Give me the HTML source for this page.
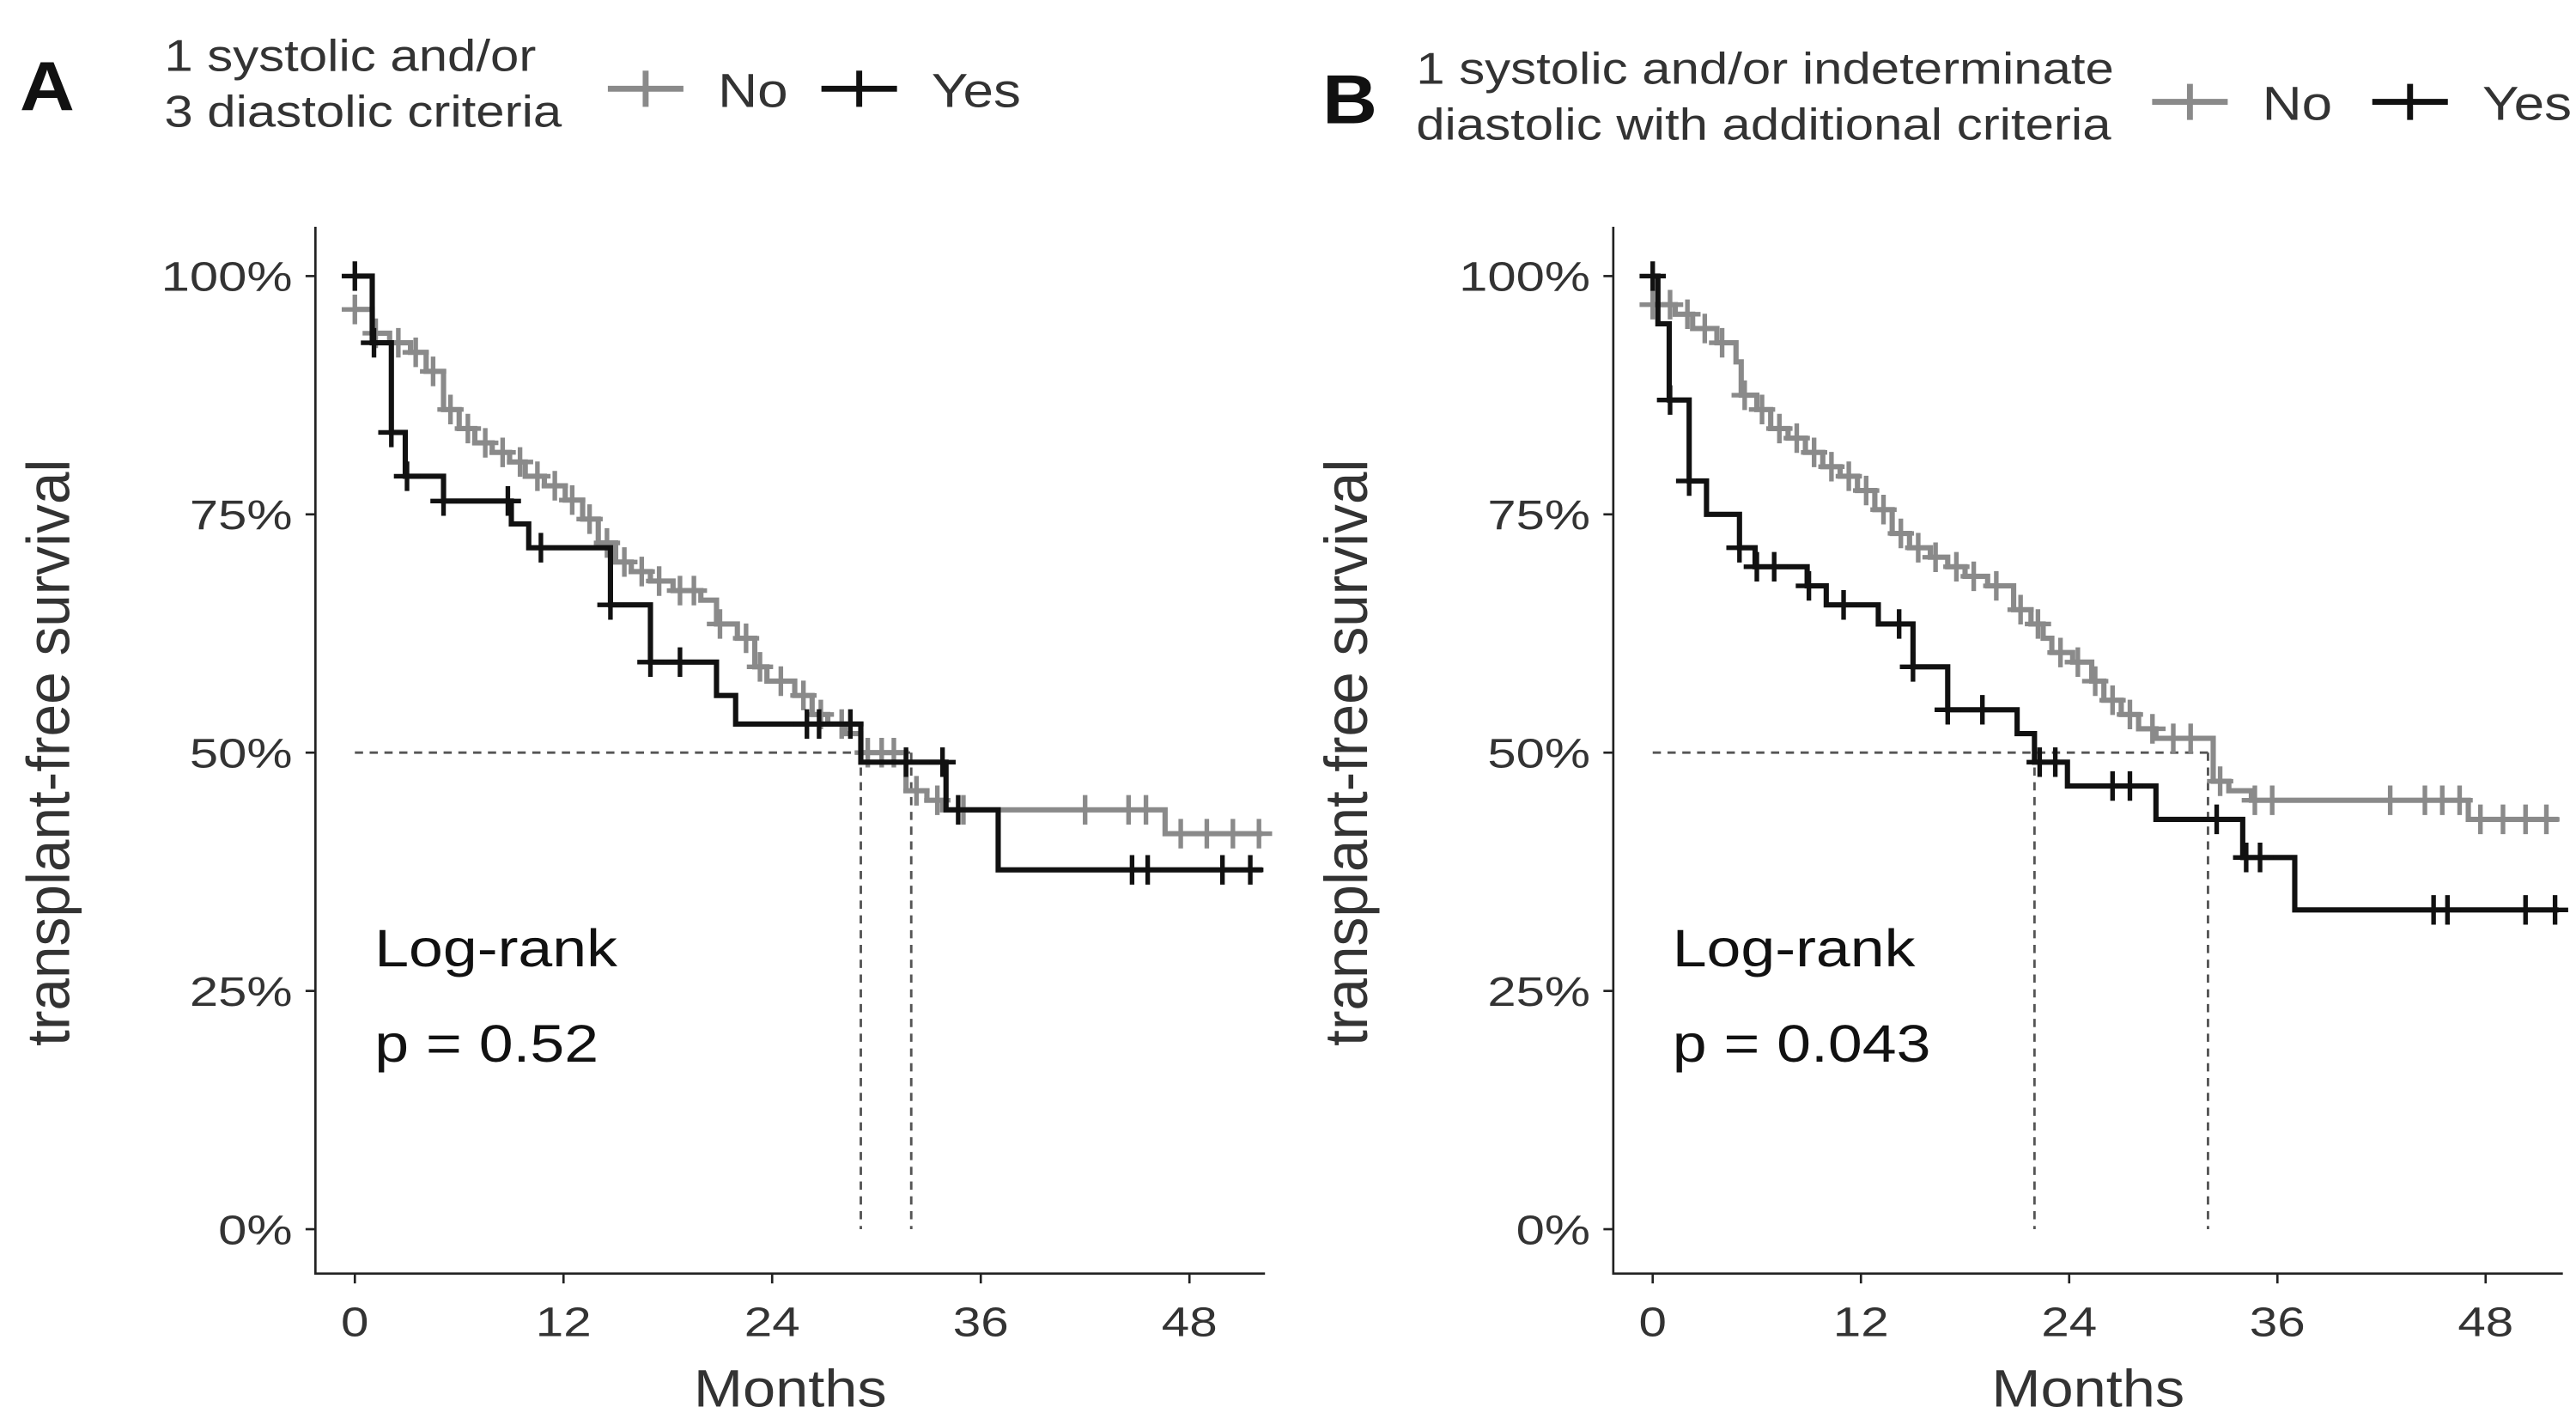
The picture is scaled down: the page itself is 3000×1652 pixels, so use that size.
<!DOCTYPE html>
<html><head><meta charset="utf-8"><style>
html,body{margin:0;padding:0;background:#fff}
svg{display:block}
text{font-family:"Liberation Sans",Arial,sans-serif}
</style></head><body>
<svg id="fig" width="3000" height="1652" viewBox="0 0 1568 863.5" preserveAspectRatio="none">
<rect width="1568" height="864" fill="#fff"/>
</svg>
<script>
// ---------- Data ----------
const xTicks = [0, 12, 24, 36, 48];
const yTicks = [0, 25, 50, 75, 100];
const yTickLabels = ["0%", "25%", "50%", "75%", "100%"];

// Panel A
const aNoTimes   = [0,1,2,3.2,4.1,5.1,6,6.9,7.9,8.9,9.8,10.9,12.1,13.1,14,15,15.9,17,18.3,19.9,20.8,22,23,23.7,25.3,26.3,27.2,28.2,29.1,31.7,32.9,33.8,46.6];
const aNoSurv    = [96.5,94,93,92,90,86,84,82.5,81.5,80.5,79,78,76.5,74.5,72,70,69,68,67,66,63.5,62,59,57.5,56,54,53,52,50,46,45,44,41.5];
const aNoCensor  = [0,1.2,2.5,3.5,4.5,5.5,6.5,7.5,8.5,9.5,10.5,11.5,12.5,13.5,14.5,15.5,16.5,17.5,18.7,19.5,21,22.5,23.3,24.5,25.8,26.8,28,29.5,30.3,31,32.3,33.5,35,42,44.5,45.5,47.5,49,50.5,52];
const aYesTimes  = [0,1.0,2.1,2.9,5.1,9,10,14.7,17,20.8,21.9,29.1,34,37];
const aYesSurv   = [100,93,83.6,79,76.4,74,71.5,65.5,59.5,56,53,49,44,37.7];
const aYesCensor = [0,1.1,2.1,3,5.1,8.8,10.7,14.7,17,18.7,26,26.7,28.5,31.7,33.8,34.7,44.7,45.6,49.9,51.5];
const aMedians   = [29.1, 32.0];

// Panel B
const bNoTimes   = [0,1.3,2.3,3.7,4.8,5.1,6,6.8,7.8,8.8,9.8,10.8,11.8,12.8,13.8,14.8,16,17,18,19.3,20.8,21.8,22.5,23,24.2,25.3,26,27,28,29,32.3,33.2,34.5,47];
const bNoSurv    = [97,96,94.5,93,91,87.5,86,84,83,81.5,80,79,77.5,75.5,73,71.5,70.5,69.5,68.5,67.5,65,63.5,62,60.5,59.5,57.5,55.5,54,52.5,51.5,47,46,45,43];
const bNoCensor  = [0,1,2,3,4,5.3,6.3,7.3,8.3,9.3,10.3,11.3,12.3,13.3,14.3,15.3,16.3,17.5,18.5,19.8,21.2,22.2,23.5,24.5,25.5,26.5,27.5,28.8,30,31,32.7,34.7,35.7,42.5,44.5,45.5,46.5,47.7,49,50.3,51.5];
const bYesTimes  = [0,0.3,0.95,2.1,3.1,5,5.9,8.9,10,13,15,17,21,22,23.9,29,34,37];
const bYesSurv   = [100,95,87,78.5,75,71.5,69.5,67.5,65.5,63.5,59,54.5,52,49,46.5,43,39,33.5];
const bYesCensor = [0,1,2.1,5,6,7,9,11,14.2,15,17,19,22.3,23.2,26.5,27.5,32.5,34.2,35,45,45.8,50.3,52];
const bMedians   = [22.0, 32.0];

// ---------- Drawing ----------
const NS = "http://www.w3.org/2000/svg";
const svg = document.getElementById("fig");
function el(tag, attrs, parent){
  const e = document.createElementNS(NS, tag);
  for (const k in attrs) e.setAttribute(k, attrs[k]);
  (parent||svg).appendChild(e);
  return e;
}
function txt(parent, x, y, str, size, sx, anchor, extra){
  const attrs = {x:0, y:0, "font-size":size, "text-anchor":anchor||"start",
    transform:`translate(${x},${y}) scale(${sx},1)`, fill:TXT};
  if (extra) for (const k in extra) attrs[k] = extra[k];
  const t = el("text", attrs, parent);
  t.textContent = str;
  return t;
}
const GRAY = "#8a8a8a", BLACK = "#111", TXT = "#333";

function panel(cfg){
  const g = el("g", {});
  
  
  const x0 = cfg.x0, pxm = cfg.pxm, xEnd = cfg.xEnd;
  const xs = m => x0 + m * pxm;
  const ys = s => 748 - s * 5.8;
  const ax = el("path", {d:`M${cfg.axisX},138 V775 H${xEnd}`, fill:"none", stroke:"#222", "stroke-width":1.4}, g);
  
  
  xTicks.forEach(t=>{
    el("line",{x1:xs(t),x2:xs(t),y1:775,y2:781,stroke:"#222","stroke-width":1.4},g);
    const tx = txt(g, xs(t), 813, String(t), 25, 1.22, "middle");
    
    
  });
  yTicks.forEach((t,i)=>{
    el("line",{x1:cfg.axisX-6,x2:cfg.axisX,y1:ys(t),y2:ys(t),stroke:"#222","stroke-width":1.4},g);
    const tx = txt(g, cfg.axisX-14, ys(t)+9, yTickLabels[i], 25, 1.25, "end");
    
    
  });
  const xt = txt(g, (cfg.axisX+xEnd)/2, 856, "Months", 32, 1.12, "middle");
  
  
  const yt = el("text",{x:0,y:0,"text-anchor":"middle","font-size":33,fill:TXT,
    transform:`translate(${cfg.axisX-150},458) rotate(-90) scale(1.07,1.12)`},g);
  yt.textContent = "transplant-free survival";
  
  
  const mMax = Math.max(...cfg.medians);
  const hd = el("line",{x1:xs(0),x2:xs(mMax),y1:ys(50),y2:ys(50),stroke:"#555","stroke-width":1.5,"stroke-dasharray":"5,4"},g);
  
  
  cfg.medians.forEach(m=>{
    const vd = el("line",{x1:xs(m),x2:xs(m),y1:ys(50),y2:ys(0),stroke:"#555","stroke-width":1.5,"stroke-dasharray":"5,4"},g);
    
    
  });
  function curve(times, surv, censor, color, name){
    let d = `M${xs(times[0])},${ys(surv[0])}`;
    for (let i=1;i<times.length;i++){
      d += ` H${xs(times[i])} V${ys(surv[i])}`;
    }
    d += ` H${xs(52.2)}`;
    const p = el("path",{d, fill:"none", stroke:color, "stroke-width":3.2},g);
    
    
    const sAt = t => { let s = surv[0]; for (let i=0;i<times.length;i++) if (times[i] <= t) s = surv[i]; return s; };
    censor.forEach(t=>{
      const cx = xs(t), cy = ys(sAt(t));
      const c = el("path",{d:`M${cx-8},${cy} H${cx+8} M${cx},${cy-9} V${cy+9}`, stroke:color, "stroke-width":2.8},g);
      
      
    });
  }
  curve(cfg.noT, cfg.noS, cfg.noC, GRAY, "no");
  curve(cfg.yesT, cfg.yesS, cfg.yesC, BLACK, "yes");
  const a1 = txt(g, xs(0)+12, 588, "Log-rank", 32, 1.17, "start", {fill:"#111"});
  
  
  const a2 = txt(g, xs(0)+12, 646, cfg.p, 32, 1.17, "start", {fill:"#111"});
  
  
  const L = txt(g, cfg.letterX, cfg.legY+15, cfg.key.toUpperCase(), 42, 1.1, "start", {"font-weight":"bold", fill:"#111"});
  
  
  const t1 = txt(g, cfg.legTX, cfg.legY-9, cfg.leg1, 27, 1.16);
  
  
  const t2 = txt(g, cfg.legTX, cfg.legY+25, cfg.leg2, 27, 1.16);
  
  
  [[cfg.keyNo,GRAY,"No"],[cfg.keyYes,BLACK,"Yes"]].forEach(([kx,col,lab])=>{
    const y = cfg.legY+2;
    const k = el("path",{d:`M${kx},${y} H${kx+46} M${kx+23},${y-11} V${y+11}`,stroke:col,"stroke-width":3.6},g);
    
    
    const tx = txt(g, kx+67, y+11, lab, 29, 1.15);
    
    
  });
}

panel({key:"a", x0:216, pxm:(724-216)/48, axisX:192, xEnd:770,
  noT:aNoTimes,noS:aNoSurv,noC:aNoCensor,yesT:aYesTimes,yesS:aYesSurv,yesC:aYesCensor,
  medians:aMedians, p:"p = 0.52", letterX:12, legY:52, legTX:100,
  leg1:"1 systolic and/or", leg2:"3 diastolic criteria", keyNo:370, keyYes:500});
panel({key:"b", x0:1006, pxm:(1513-1006)/48, axisX:982, xEnd:1560,
  noT:bNoTimes,noS:bNoSurv,noC:bNoCensor,yesT:bYesTimes,yesS:bYesSurv,yesC:bYesCensor,
  medians:bMedians, p:"p = 0.043", letterX:805, legY:60, legTX:862,
  leg1:"1 systolic and/or indeterminate", leg2:"diastolic with additional criteria", keyNo:1310, keyYes:1444});
</script>
</body></html>
